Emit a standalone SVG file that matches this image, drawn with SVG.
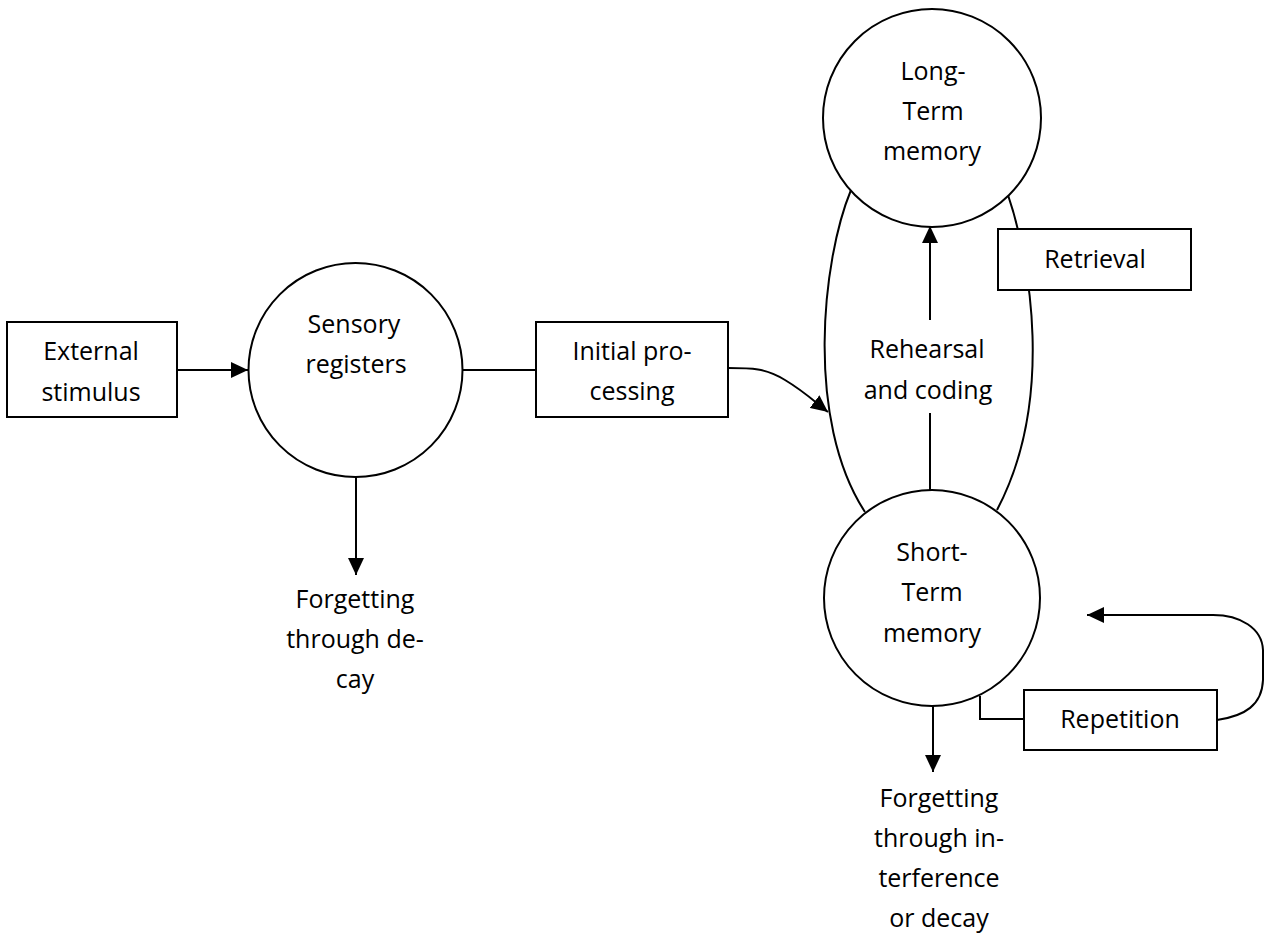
<svg xmlns="http://www.w3.org/2000/svg" width="1266" height="934" viewBox="0 0 1266 934">
<defs>
<style>
.s{fill:none;stroke:#000;stroke-width:2}
.b{fill:#fff;stroke:#000;stroke-width:2}
text{font-family:"Open Sans",Lato,"Liberation Sans",sans-serif;font-size:25px;fill:#000;text-anchor:middle}
</style>
<marker id="ah" markerUnits="userSpaceOnUse" markerWidth="18" markerHeight="16" refX="17" refY="8" orient="auto">
<path d="M0,0 L17,8 L0,16 z" fill="#000"/>
</marker>
</defs>
<rect width="1266" height="934" fill="#fff"/>
<g id="connectors">
<line class="s" x1="177" y1="370" x2="248" y2="370" marker-end="url(#ah)"/>
<line class="s" x1="356" y1="477" x2="356" y2="575" marker-end="url(#ah)"/>
<line class="s" x1="463" y1="370" x2="536" y2="370"/>
<path class="s" d="M728,368 C752,368 765,368 785,380 S815,402 828,412" marker-end="url(#ah)"/>
<path class="s" d="M851,190 C822,260 805,420 865,512"/>
<path class="s" d="M1008,195 C1030,260 1055,400 997,510"/>
<line class="s" x1="930" y1="320" x2="930" y2="226" marker-end="url(#ah)"/>
<line class="s" x1="930" y1="413" x2="930" y2="490"/>
<line class="s" x1="933" y1="706" x2="933" y2="772" marker-end="url(#ah)"/>
<path class="s" d="M980,696 L980,719 L1024,719"/>
<path class="s" d="M1217,720 C1245,716 1262,705 1263,680 L1263,650 C1262,628 1240,615 1213,615 L1087,615" marker-end="url(#ah)"/>
</g>
<g id="external-stimulus">
<rect class="b" x="7" y="322" width="170" height="95"/>
<text x="91" y="360">External</text>
<text x="91" y="401">stimulus</text>
</g>
<g id="sensory-registers">
<circle class="b" cx="355.5" cy="370" r="107"/>
<text x="354" y="333">Sensory</text>
<text x="356" y="373">registers</text>
</g>
<g id="forgetting-decay">
<text x="355" y="608">Forgetting</text>
<text x="355" y="648">through de-</text>
<text x="355" y="688">cay</text>
</g>
<g id="initial-processing">
<rect class="b" x="536" y="322" width="192" height="95"/>
<text x="632" y="360">Initial pro-</text>
<text x="632" y="400">cessing</text>
</g>
<g id="long-term-memory">
<circle class="b" cx="932" cy="118" r="109"/>
<text x="933" y="80">Long-</text>
<text x="933" y="120">Term</text>
<text x="932" y="160">memory</text>
</g>
<g id="retrieval">
<rect class="b" x="998" y="229" width="193" height="61"/>
<text x="1095" y="268">Retrieval</text>
</g>
<g id="rehearsal-coding">
<text x="927" y="358">Rehearsal</text>
<text x="928" y="399">and coding</text>
</g>
<g id="short-term-memory">
<circle class="b" cx="932" cy="598" r="108"/>
<text x="932" y="561">Short-</text>
<text x="932" y="601">Term</text>
<text x="932" y="642">memory</text>
</g>
<g id="repetition">
<rect class="b" x="1024" y="690" width="193" height="60"/>
<text x="1120" y="728">Repetition</text>
</g>
<g id="forgetting-interference">
<text x="939" y="807">Forgetting</text>
<text x="939" y="847">through in-</text>
<text x="939" y="887">terference</text>
<text x="939" y="927">or decay</text>
</g>
</svg>
